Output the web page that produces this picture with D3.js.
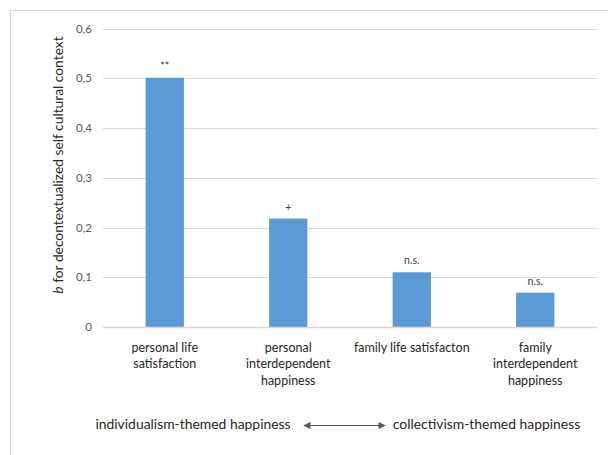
<!DOCTYPE html>
<html><head><meta charset="utf-8">
<script src="https://cdn.jsdelivr.net/npm/d3@7"></script>
<style>body{margin:0;background:#fff}svg{display:block}</style>
</head><body>
<svg id="c" width="608" height="455"></svg>
<script>
const categories = [
  ["personal life", "satisfaction"],
  ["personal", "interdependent", "happiness"],
  ["family life satisfacton"],
  ["family", "interdependent", "happiness"]
];
const values = [0.501, 0.218, 0.110, 0.069];
const sigLabels = ["**", "+", "n.s.", "n.s."];
const yTicks = [0, 0.1, 0.2, 0.3, 0.4, 0.5, 0.6];
const yTickLabels = ["0", "0,1", "0,2", "0,3", "0,4", "0,5", "0,6"];
const leftTheme = "individualism-themed happiness";
const rightTheme = "collectivism-themed happiness";

const svg = d3.select("#c");
const font = "Lato, 'Open Sans', sans-serif";
const W = 608, H = 455;
const plot = {left: 103, right: 597, top: 28.5, bottom: 327};

// frame
svg.append("path").attr("d", `M10.5,${H} V10.5 H${W}`).attr("fill","none").attr("stroke","#d9d9d9").attr("stroke-width",1.2);

const y = d3.scaleLinear().domain([0, 0.6]).range([plot.bottom, plot.top]);
const x = d3.scaleBand().domain(d3.range(categories.length)).range([plot.left, plot.right]).paddingInner(0.69).paddingOuter(0.345);

// gridlines
svg.append("g").selectAll("line").data(yTicks).join("line")
  .attr("x1", plot.left).attr("x2", plot.right)
  .attr("y1", d => Math.round(y(d)) + 0.5).attr("y2", d => Math.round(y(d)) + 0.5)
  .attr("stroke", "#d9d9d9").attr("stroke-width", 1);

// y axis labels
const yAxis = d3.axisLeft(y).tickValues(yTicks).tickFormat((d,i) => yTickLabels[i]).tickSize(0).tickPadding(11);
const ga = svg.append("g").attr("transform", `translate(${plot.left},0)`).call(yAxis);
ga.select(".domain").remove();
ga.selectAll("text").attr("font-family", font).attr("font-size", 11.5).attr("fill", "#595959");

// bars
svg.append("g").selectAll("rect").data(values).join("rect")
  .attr("x", (d,i) => x(i)).attr("width", x.bandwidth())
  .attr("y", d => y(d)).attr("height", d => y(0) - y(d))
  .attr("fill", "#5b9bd5");

// baseline
svg.append("line").attr("x1", plot.left).attr("x2", plot.right)
  .attr("y1", Math.round(y(0)) + 0.5).attr("y2", Math.round(y(0)) + 0.5)
  .attr("stroke", "#d9d9d9").attr("stroke-width", 1.5);

// significance labels
svg.append("g").selectAll("text").data(values).join("text")
  .attr("x", (d,i) => x(i) + x.bandwidth()/2).attr("y", d => y(d) - 8)
  .attr("text-anchor", "middle").attr("font-family", font).attr("font-size", 10.5).attr("fill", "#404040")
  .text((d,i) => sigLabels[i]);

// category labels
const gc = svg.append("g");
categories.forEach((lines, i) => {
  const t = gc.append("text").attr("text-anchor", "middle").attr("font-family", font).attr("font-size", 12.5).attr("fill", "#262626");
  lines.forEach((l, j) => t.append("tspan").attr("x", x(i) + x.bandwidth()/2).attr("y", 351.5 + j*16.6).text(l));
});

// y axis title
const yt = svg.append("text").attr("transform", `translate(63,165) rotate(-90)`)
  .attr("text-anchor", "middle").attr("font-family", font).attr("font-size", 13.8).attr("fill", "#262626");
yt.append("tspan").attr("font-style", "italic").text("b");
yt.append("tspan").text(" for decontextualized self cultural context");

// bottom themes
svg.append("text").attr("x", 193).attr("y", 429).attr("text-anchor", "middle").attr("font-family", font).attr("font-size", 13.9).attr("fill", "#262626").text(leftTheme);
svg.append("text").attr("x", 486.5).attr("y", 429).attr("text-anchor", "middle").attr("font-family", font).attr("font-size", 13.9).attr("fill", "#262626").text(rightTheme);

// arrow
const defs = svg.append("defs");
defs.append("marker").attr("id", "ah").attr("viewBox", "0 0 10 10").attr("refX", 9).attr("refY", 5)
  .attr("markerWidth", 7).attr("markerHeight", 6).attr("orient", "auto-start-reverse")
  .append("path").attr("d", "M0,0 L10,5 L0,10 Z").attr("fill", "#595959");
svg.append("line").attr("x1", 304).attr("x2", 385).attr("y1", 425.5).attr("y2", 425.5)
  .attr("stroke", "#595959").attr("stroke-width", 1.2)
  .attr("marker-start", "url(#ah)").attr("marker-end", "url(#ah)");
</script>
</body></html>
